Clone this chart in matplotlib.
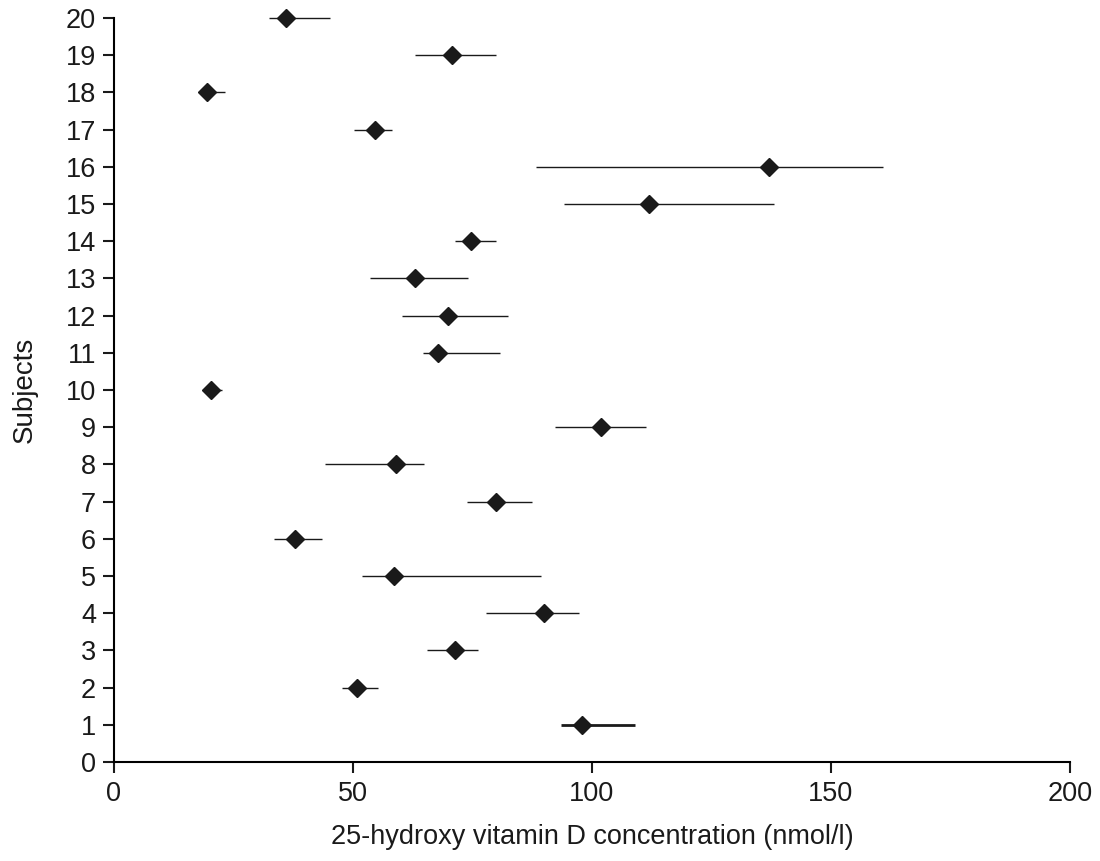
import matplotlib
matplotlib.use("Agg")
import matplotlib.pyplot as plt
import numpy as np

plt.rcParams['font.family'] = ['Liberation Sans', 'DejaVu Sans']

## datos: media y rango por sujeto ##
subjects = list(range(1, 21))
means = [98.0, 50.8, 71.3, 89.9, 58.5, 37.9, 79.9, 59.1, 102.0, 20.4,
         67.7, 69.9, 62.9, 74.7, 111.9, 137.0, 54.7, 19.5, 70.7, 36.0]
lows = [93.6, 47.7, 65.4, 77.8, 52.0, 33.4, 73.8, 44.2, 92.3, 19.0,
        64.6, 60.2, 53.6, 71.4, 94.1, 88.4, 50.3, 18.0, 62.9, 32.5]
highs = [109.1, 55.3, 76.2, 97.4, 89.4, 43.6, 87.4, 64.8, 111.3, 22.6,
         80.8, 82.5, 74.0, 79.9, 138.1, 161.0, 58.2, 23.2, 80.0, 45.2]

widths = [2.0] + [1.0] * 19

fig = plt.figure(figsize=(11, 8.61), dpi=100)
ax = fig.add_axes([0.1036, 0.115, 0.869, 0.864])

ax.hlines(subjects, lows, highs, colors='#1a1a1a', linewidths=widths,
          clip_on=False)
ax.plot(means, subjects, linestyle='none', marker='D', markersize=9,
        color='#1a1a1a', clip_on=False)

ax.set_xlim(0, 200)
ax.set_ylim(0, 20)
ax.set_xticks(np.arange(0, 201, 50))
ax.set_yticks(np.arange(0, 21, 1))
ax.spines['top'].set_visible(False)
ax.spines['right'].set_visible(False)
ax.spines['left'].set_linewidth(1.5)
ax.spines['bottom'].set_linewidth(1.5)
ax.tick_params(direction='out', length=8, width=1.5, labelsize=19.5,
               colors='#1a1a1a', pad=5)
ax.tick_params(axis='x', pad=6)
ax.set_xlabel('25-hydroxy vitamin D concentration (nmol/l)', fontsize=19.5,
              labelpad=12, color='#1a1a1a')
ax.set_ylabel('Subjects', fontsize=20, labelpad=20, color='#1a1a1a')

fig.savefig('out.png', dpi=100)
